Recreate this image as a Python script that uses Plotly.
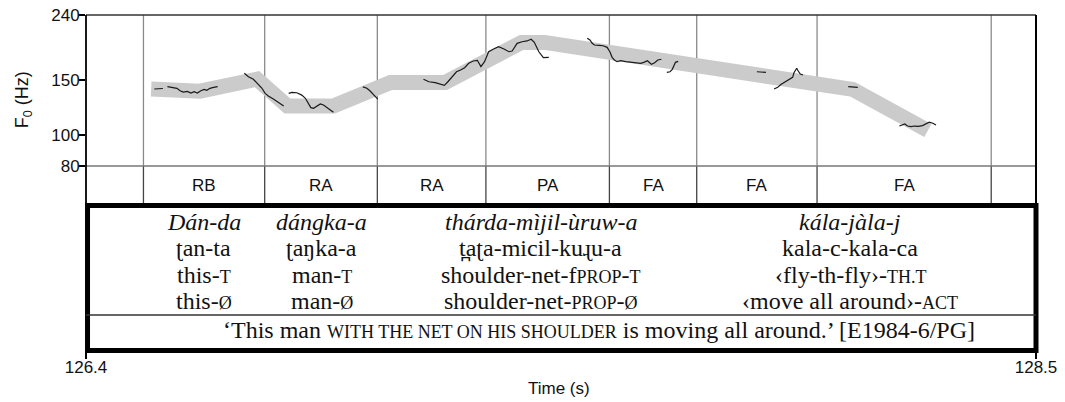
import plotly.graph_objects as go

# ---------------- data ----------------
# interval boundaries (s) and tone labels of the intervals between them
boundaries = [126.527, 126.795, 127.044, 127.284, 127.557, 127.750, 128.016, 128.401]
tone_labels = ["RB", "RA", "RA", "PA", "FA", "FA", "FA"]

# stylised contour (grey band)
band_time = [126.544, 126.652, 126.778, 126.845, 126.947, 127.073, 127.194, 127.363, 127.414, 128.095, 128.261]
band_hz = [140.0, 137.9, 150.4, 123.8, 123.8, 146.9, 146.9, 196.6, 196.6, 139.7, 103.6]

# measured F0 (None separates voiced stretches)
f0_time = [
    126.551, 126.570, None,
    126.580, 126.590, 126.601, 126.608, 126.615, 126.624, 126.632, 126.639, 126.646, 126.654,
    126.661, 126.667, 126.674, 126.682, 126.691, None,
    126.750, 126.759, 126.770, 126.781, 126.789, 126.796, 126.803, 126.815, 126.826, 126.837, None,
    126.848, 126.855, 126.866, 126.877, 126.885, 126.892, 126.897, 126.903, 126.911, 126.918,
    126.925, 126.933, 126.940, 126.947, None,
    127.012, 127.021, 127.028, 127.036, 127.045, None,
    127.146, 127.158, 127.172, 127.183, 127.192, 127.200, 127.209, 127.219, 127.228, 127.237,
    127.246, 127.256, 127.265, 127.273, 127.281, 127.290, 127.301, 127.312, 127.324, 127.335,
    127.342, 127.353, 127.364, 127.375, 127.384, 127.391, 127.401, 127.411, 127.423, None,
    127.508, 127.514, 127.519, 127.524, 127.534, 127.543, 127.552, 127.558, 127.563, 127.568,
    127.574, 127.582, 127.593, 127.604, 127.615, 127.626, 127.633, 127.641, 127.646, 127.650,
    127.657, 127.664, 127.672, None,
    127.684, 127.691, 127.696, 127.701, 127.703, 127.709, None,
    127.883, 127.903, None,
    127.921, 127.929, 127.936, 127.947, 127.954, 127.962, 127.965, 127.971, 127.974, 127.979, 127.985, None,
    128.085, 128.106, None,
    128.198, 128.205, 128.210, 128.216, 128.224, 128.231, 128.240, 128.249, 128.257, 128.264, 128.272, 128.279,
]
f0_hz = [
    140.1, 140.6, None,
    142.5, 141.8, 140.8, 138.3, 137.0, 137.7, 136.0, 137.3, 136.0, 138.3,
    139.7, 138.7, 140.8, 141.8, 142.5, None,
    157.0, 153.2, 150.3, 145.3, 140.8, 135.7, 133.1, 130.0, 126.8, 123.8, None,
    135.7, 136.7, 136.3, 134.0, 130.9, 126.2, 122.3, 121.7, 123.8, 125.6,
    124.7, 122.6, 120.2, 118.2, None,
    142.2, 140.8, 138.0, 134.0, 130.2, None,
    150.3, 147.7, 146.7, 145.3, 143.9, 147.7, 153.2, 158.8, 160.8, 163.6,
    168.9, 171.7, 172.6, 164.8, 170.9, 183.7, 187.4, 190.6, 187.4, 183.7,
    184.6, 195.3, 197.6, 198.7, 201.1, 196.8, 183.7, 175.9, 176.4, None,
    202.6, 200.1, 195.3, 192.9, 192.5, 191.9, 189.7, 183.7, 176.4, 173.0,
    170.9, 172.1, 170.9, 170.5, 169.6, 168.9, 170.1, 172.1, 169.6, 167.6,
    169.6, 173.0, 173.9, None,
    158.1, 158.8, 161.6, 166.8, 170.1, 171.3, None,
    158.8, 158.1, None,
    140.1, 141.8, 144.8, 147.7, 149.5, 152.5, 157.6, 162.9, 160.0, 156.2, 155.1, None,
    142.5, 141.8, None,
    107.0, 107.8, 108.6, 107.0, 106.5, 107.0, 106.7, 107.3, 108.6, 110.0, 109.2, 107.8,
]

y_ticks = [80, 100, 150, 240]
x_ticks = [126.4, 128.5]

# interlinear gloss: word columns (time of column centre) and tiers
word_times = [126.660, 126.921, 127.405, 128.089]
SC = "<span style='font-size:18px'>"
tier_orth = ["<i>Dán-da</i>", "<i>dángka-a</i>", "<i>thárda-mìjil-ùruw-a</i>", "<i>kála-jàla-j</i>"]
tier_ipa = ["ʈan-ta", "ʈaŋka-a", "t̪aʈa-micil-kuɻu-a", "kala-c-kala-ca"]
tier_gloss1 = ["this-" + SC + "T</span>", "man-" + SC + "T</span>",
               "shoulder-net-f" + SC + "PROP</span>-" + SC + "T</span>",
               "‹fly-th-fly›-" + SC + "TH.T</span>"]
tier_gloss2 = ["this-" + SC + "Ø</span>", "man-" + SC + "Ø</span>",
               "shoulder-net-" + SC + "PROP</span>-" + SC + "Ø</span>",
               "‹move all around›-" + SC + "ACT</span>"]
translation = ("‘This man " + SC + "WITH THE NET ON HIS SHOULDER</span> is moving all around.’ [E1984-6/PG]")
translation_time = 127.534

# ---------------- layout geometry (paper fractions of the plot area) ----------------
F0_BOTTOM = 0.5506   # 80 Hz line
TONE_BOTTOM = 0.433  # bottom of tone-label row / top of gloss box
SEP = 0.1071         # separator above free translation
tier_y = [0.3839, 0.3051, 0.2262, 0.1488]
trans_y = 0.0625
tone_y = 0.4917

SANS = "Liberation Sans, Arial, sans-serif"
SERIF = "Liberation Serif, Times New Roman, serif"
INK = "#111111"

fig = go.Figure()
fig.add_trace(go.Scatter(x=band_time, y=band_hz, mode="lines",
                         line=dict(color="#cbcbcb", width=15), hoverinfo="skip", showlegend=False))
fig.add_trace(go.Scatter(x=f0_time, y=f0_hz, mode="lines", connectgaps=False,
                         line=dict(color="#1a1a1a", width=1.2), hoverinfo="skip", showlegend=False))

shapes = []
for b in boundaries:
    shapes.append(dict(type="line", xref="x", yref="paper", x0=b, x1=b, y0=F0_BOTTOM, y1=1,
                       line=dict(color="#8a8a8a", width=1.3), layer="below"))
    shapes.append(dict(type="line", xref="x", yref="paper", x0=b, x1=b, y0=TONE_BOTTOM, y1=F0_BOTTOM,
                       line=dict(color="#444444", width=1.3)))
# 80 Hz line, top, left, right borders
shapes.append(dict(type="line", xref="paper", yref="paper", x0=0, x1=1, y0=F0_BOTTOM, y1=F0_BOTTOM,
                   line=dict(color="#777777", width=1.3)))
shapes.append(dict(type="line", xref="paper", yref="paper", x0=0, x1=1, y0=1, y1=1,
                   line=dict(color="#333333", width=1.6)))
shapes.append(dict(type="line", xref="paper", yref="paper", x0=0, x1=0, y0=TONE_BOTTOM, y1=1,
                   line=dict(color="#000000", width=1.8)))
shapes.append(dict(type="line", xref="paper", yref="paper", x0=1, x1=1, y0=TONE_BOTTOM, y1=1,
                   line=dict(color="#000000", width=2)))
# gloss box
shapes.append(dict(type="rect", xref="paper", yref="paper", x0=0.0016, x1=1.0, y0=0.0015, y1=TONE_BOTTOM,
                   line=dict(color="#000000", width=5)))
shapes.append(dict(type="line", xref="paper", yref="paper", x0=0, x1=1, y0=SEP, y1=SEP,
                   line=dict(color="#333333", width=1.5)))

annotations = []
edges = boundaries
for i, lab in enumerate(tone_labels):
    annotations.append(dict(x=(edges[i] + edges[i + 1]) / 2, y=tone_y, xref="x", yref="paper",
                            text=lab, showarrow=False, font=dict(family=SANS, size=17, color=INK),
                            xanchor="center", yanchor="middle"))
for tier, ty in zip([tier_orth, tier_ipa, tier_gloss1, tier_gloss2], tier_y):
    for wt, txt in zip(word_times, tier):
        annotations.append(dict(x=wt, y=ty, xref="x", yref="paper", text=txt, showarrow=False,
                                font=dict(family=SERIF, size=24, color=INK),
                                xanchor="center", yanchor="middle"))
annotations.append(dict(x=translation_time, y=trans_y, xref="x", yref="paper", text=translation,
                        showarrow=False, font=dict(family=SERIF, size=24, color=INK),
                        xanchor="center", yanchor="middle"))
annotations.append(dict(x=-0.066, y=0.747, xref="paper", yref="paper", text="F<sub>0</sub> (Hz)",
                        textangle=-90, showarrow=False, font=dict(family=SANS, size=18, color=INK),
                        xanchor="center", yanchor="middle"))
annotations.append(dict(x=0.498, y=-0.113, xref="paper", yref="paper", text="Time (s)",
                        showarrow=False, font=dict(family=SANS, size=17, color=INK),
                        xanchor="center", yanchor="middle"))

# plot area at x 86-1036, y 15-351 (page body margin removed by the post script)
fig.update_layout(
    width=1065, height=402,
    margin=dict(l=86, r=29, t=15, b=51, pad=0, autoexpand=False),
    paper_bgcolor="white", plot_bgcolor="white",
    showlegend=False,
    xaxis=dict(range=[126.4, 128.5], tickvals=x_ticks, ticktext=[str(v) for v in x_ticks],
               ticks="outside", ticklen=7, tickwidth=1.5, tickcolor="#000",
               ticklabelstandoff=-6, ticklabeloverflow="allow", automargin=False,
               showgrid=False, zeroline=False, showline=False,
               anchor="free", position=0,
               tickfont=dict(family=SANS, size=17, color=INK)),
    yaxis=dict(type="log", range=[1.903088, 2.380213], domain=[F0_BOTTOM, 1],
               tickvals=y_ticks, ticktext=[str(v) for v in y_ticks],
               ticks="outside", ticklen=6, tickwidth=1.5, tickcolor="#000",
               ticklabelstandoff=-4, ticklabeloverflow="allow", automargin=False,
               showgrid=False, zeroline=False, showline=False,
               tickfont=dict(family=SANS, size=17, color=INK)),
    shapes=shapes,
    annotations=annotations,
)

fig.write_html("out.html", config={"displayModeBar": False},
               post_script="document.body.style.margin='0px';")
